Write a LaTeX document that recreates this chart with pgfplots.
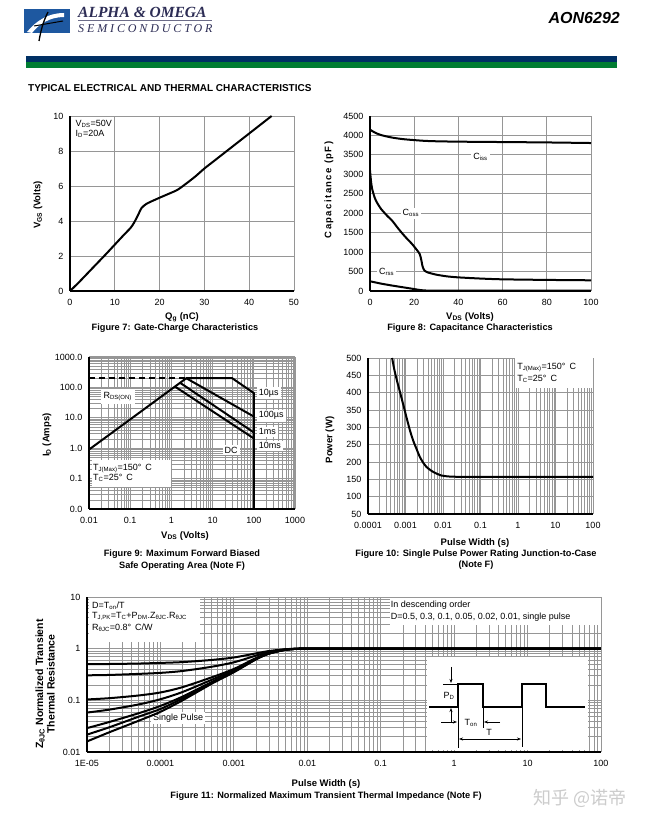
\documentclass[border=0pt]{standalone}
\usepackage{fontspec}
\setmainfont{Liberation Sans}
\newfontfamily\lserif{Liberation Serif}
\newfontfamily\lserifsp[LetterSpace=24]{Liberation Serif}
\newfontfamily\cjk{Noto Sans CJK SC}
\usepackage{pgfplots}
\pgfplotsset{compat=1.18}
\usetikzlibrary{arrows.meta}

\definecolor{gridgray}{RGB}{150,150,150}
\definecolor{aoblue}{RGB}{0,48,100}
\definecolor{aogreen}{RGB}{0,125,50}
\definecolor{logoblue}{RGB}{30,88,160}
\definecolor{logotext}{RGB}{45,45,85}

\newcommand\tk{\fontsize{9}{10.5}\selectfont}
\newcommand\lbl{\fontsize{9.5}{11}\selectfont\bfseries}
\newcommand\capf{\fontsize{9.2}{11}\selectfont\bfseries}
\newcommand\sub[1]{\textsubscript{#1}}

\pgfplotsset{
 soaminor/.style={
  minor xtick={0.02,0.03,0.04,0.05,0.06,0.07,0.08,0.09,0.2,0.3,0.4,0.5,0.6,0.7,0.8,0.9,2,3,4,5,6,7,8,9,20,30,40,50,60,70,80,90,200,300,400,500,600,700,800,900},
  minor ytick={0.02,0.03,0.04,0.05,0.06,0.07,0.08,0.09,0.2,0.3,0.4,0.5,0.6,0.7,0.8,0.9,2,3,4,5,6,7,8,9,20,30,40,50,60,70,80,90,200,300,400,500,600,700,800,900}},
 pminor/.style={
  minor xtick={0.0002,0.0003,0.0004,0.0005,0.0006,0.0007,0.0008,0.0009,0.002,0.003,0.004,0.005,0.006,0.007,0.008,0.009,0.02,0.03,0.04,0.05,0.06,0.07,0.08,0.09,0.2,0.3,0.4,0.5,0.6,0.7,0.8,0.9,2,3,4,5,6,7,8,9,20,30,40,50,60,70,80,90}},
 zminor/.style={
  minor xtick={0.00002,0.00003,0.00004,0.00005,0.00006,0.00007,0.00008,0.00009,0.0002,0.0003,0.0004,0.0005,0.0006,0.0007,0.0008,0.0009,0.002,0.003,0.004,0.005,0.006,0.007,0.008,0.009,0.02,0.03,0.04,0.05,0.06,0.07,0.08,0.09,0.2,0.3,0.4,0.5,0.6,0.7,0.8,0.9,2,3,4,5,6,7,8,9,20,30,40,50,60,70,80,90},
  minor ytick={0.02,0.03,0.04,0.05,0.06,0.07,0.08,0.09,0.2,0.3,0.4,0.5,0.6,0.7,0.8,0.9,2,3,4,5,6,7,8,9}},
 ds/.style={scale only axis, anchor=south west,
  axis x line*=bottom, axis y line*=left,
  axis line style={line width=1.8pt,-},
  major tick length=0pt, minor tick length=0pt,
  xmajorgrids, ymajorgrids,
  major grid style={gridgray,line width=0.8pt},
  minor grid style={gridgray,line width=0.5pt},
  tick label style={font=\tk},
  /pgf/number format/assume math mode=true,
  /pgf/number format/1000 sep={},
  xticklabel style={yshift=-5pt},
  yticklabel style={xshift=-3pt},
  every axis plot/.append style={black,line width=2pt,mark=none}}}

\begin{document}
\begin{tikzpicture}
\path[fill=white,use as bounding box] (0,0) rectangle (647pt,828pt);

% ---------- Figure 7 ----------
\begin{axis}[ds, at={(70pt,537pt)}, width=224pt, height=175pt,
  xmin=0,xmax=50,ymin=0,ymax=10, xtick={0,10,20,30,40,50}, ytick={0,2,4,6,8,10}]
\node[anchor=north west,align=left,font=\tk,inner sep=1pt] at (axis cs:1,9.85) {V\sub{DS}=50V\\I\sub{D}=20A};
\addplot[black,smooth,tension=0.4] coordinates {(0,0) (2,0.5) (5,1.3) (8,2.1) (10,2.65) (12,3.2) (13.5,3.6) (14.3,3.9) (15.2,4.35) (16,4.75) (17,4.97) (18,5.1) (20,5.33) (22,5.55) (24,5.78) (26,6.15) (28,6.55) (30,7.0) (32,7.4) (35,8.0) (38,8.6) (40,9.0) (42.5,9.5) (45,10)};
\end{axis}

% ---------- Figure 8 ----------
\begin{axis}[ds, at={(370pt,537pt)}, width=221pt, height=175pt,
  xmin=0,xmax=100,ymin=0,ymax=4500, xtick={0,20,40,60,80,100}, ytick={0,500,...,4500}]
\node[fill=white,font=\tk,inner sep=2pt] at (axis cs:50,3450) {C\sub{iss}};
\node[fill=white,font=\tk,inner sep=2pt] at (axis cs:18.5,2000) {C\sub{oss}};
\node[fill=white,font=\tk,inner sep=2pt] at (axis cs:7.5,480) {C\sub{rss}};
\addplot[black,smooth] coordinates {(0,4150) (2,4080) (5,4010) (10,3945) (15,3905) (20,3880) (25,3860) (30,3850) (40,3840) (60,3830) (80,3820) (100,3805)};
\addplot[black,smooth,tension=0.4] coordinates {(0,3100) (0.5,2800) (1,2620) (2,2420) (3,2290) (5,2110) (8,1920) (10,1810) (13,1590) (16,1390) (19,1210) (21,1070) (22.5,950) (23.2,800) (23.8,630) (24.6,530) (26,480) (30,420) (35,375) (40,350) (50,320) (60,300) (80,285) (100,275)};
\addplot[black,smooth,tension=0.4] coordinates {(0,250) (5,190) (10,140) (15,95) (20,50) (23,22) (25,14) (30,12) (100,10)};
\end{axis}

% ---------- Figure 9 ----------
\begin{axis}[ds, soaminor, at={(89pt,319pt)}, width=206pt, height=152pt,
  xmode=log, ymode=log, xmin=0.01,xmax=1000,ymin=0.01,ymax=1000,
  xtick={0.01,0.1,1,10,100,1000}, xticklabels={0.01,0.1,1,10,100,1000},
  ytick={0.01,0.1,1,10,100,1000}, yticklabels={0.0,0.1,1.0,10.0,100.0,1000.0},
  xminorgrids, yminorgrids,
  major grid style={gridgray,line width=1.1pt},
  minor grid style={gridgray,line width=0.6pt}]
\node[fill=white,font=\tk,inner sep=3pt] at (axis cs:0.05,50) {R\sub{DS(ON)}};
\fill[white] (axis cs:0.0118,0.053) rectangle (axis cs:1.0,0.41);
\node[anchor=west,font=\tk,inner sep=0pt] at (axis cs:0.0125,0.21) {T\sub{J(Max)}=150°\, C};
\node[anchor=west,font=\tk,inner sep=0pt] at (axis cs:0.0125,0.105) {T\sub{C}=25°\, C};
\node[anchor=west,fill=white,font=\tk,inner sep=2pt] at (axis cs:118,66) {10µs};
\node[anchor=west,fill=white,font=\tk,inner sep=2pt] at (axis cs:118,11.7) {100µs};
\node[anchor=west,fill=white,font=\tk,inner sep=2pt] at (axis cs:118,3.5) {1ms};
\node[anchor=west,fill=white,font=\tk,inner sep=2pt] at (axis cs:118,1.2) {10ms};
\node[fill=white,font=\tk,inner sep=2pt] at (axis cs:28,0.87) {DC};
\addplot[black,line width=1.5pt,dash pattern=on 6pt off 4pt] coordinates {(0.01,200) (2.3,200)};
\addplot[black] coordinates {(0.01,0.9) (2.3,200) (30,200) (100,65) (100,0.01)};
\addplot[black] coordinates {(2.3,200) (100,11)};
\addplot[black] coordinates {(1.6,144) (100,3.3)};
\addplot[black] coordinates {(1.2,108) (100,2.1)};
\end{axis}

% ---------- Figure 10 ----------
\begin{axis}[ds, pminor, at={(368pt,314pt)}, width=225pt, height=156pt,
  xmode=log, xmin=0.0001,xmax=100,ymin=50,ymax=500,
  xtick={0.0001,0.001,0.01,0.1,1,10,100}, xticklabels={0.0001,0.001,0.01,0.1,1,10,100},
  ytick={50,100,...,500}, xminorgrids]
\fill[white] (axis cs:0.85,413) rectangle (axis cs:100,500);
\node[anchor=west,font=\tk,inner sep=0pt] at (axis cs:0.95,472) {T\sub{J(Max)}=150°\, C};
\node[anchor=west,font=\tk,inner sep=0pt] at (axis cs:0.95,439) {T\sub{C}=25°\, C};
\addplot[black,smooth,tension=0.5] coordinates {(0.00044,500) (0.0005,468) (0.0006,432) (0.0007,405) (0.00085,370) (0.00105,331) (0.0013,293) (0.0016,262) (0.002,236) (0.0024,215) (0.003,197) (0.0036,186) (0.005,174) (0.0066,167) (0.009,161) (0.012,159) (0.02,157.5) (0.1,157) (100,157)};
\end{axis}

% ---------- Figure 11 ----------
\begin{axis}[ds, zminor, at={(87pt,76pt)}, width=514pt, height=155pt,
  xmode=log, ymode=log, xmin=0.00001,xmax=100,ymin=0.01,ymax=10,
  xtick={0.00001,0.0001,0.001,0.01,0.1,1,10,100}, xticklabels={1E-05,0.0001,0.001,0.01,0.1,1,10,100},
  ytick={0.01,0.1,1,10}, yticklabels={0.01,0.1,1,10},
  xminorgrids, yminorgrids]
\fill[white] (axis cs:0.0000106,1.35) rectangle (axis cs:0.00035,9.6);
\node[anchor=west,font=\tk,inner sep=0pt] at (axis cs:0.0000117,6.7) {D=T\sub{on}/T};
\node[anchor=west,font=\tk,inner sep=0pt] at (axis cs:0.0000117,4.27) {T\sub{J,PK}=T\sub{C}+P\sub{DM}.Z\sub{θJC}.R\sub{θJC}};
\node[anchor=west,font=\tk,inner sep=0pt] at (axis cs:0.0000117,2.51) {R\sub{θJC}=0.8°\, C/W};
\fill[white] (axis cs:0.134,2.88) rectangle (axis cs:99,9.6);
\node[anchor=west,font=\tk,inner sep=0pt] at (axis cs:0.137,7.0) {In descending order};
\node[anchor=west,font=\tk,inner sep=0pt] at (axis cs:0.137,4.1) {D=0.5, 0.3, 0.1, 0.05, 0.02, 0.01, single pulse};
\node[fill=white,font=\tk,inner sep=2pt] at (axis cs:0.000174,0.0455) {Single Pulse};
\fill[white] (axis cs:0.43,0.0108) rectangle (axis cs:66,0.69);
\addplot[black,smooth] coordinates {(0.00001,0.50) (0.00002,0.505) (0.00005,0.515) (0.0001,0.53) (0.0002,0.55) (0.0005,0.605) (0.001,0.675) (0.002,0.81) (0.003,0.90) (0.005,0.975) (0.007,0.995) (0.01,1) (0.05,1) (100,1)};
\addplot[black,smooth] coordinates {(0.00001,0.305) (0.00002,0.31) (0.00005,0.325) (0.0001,0.34) (0.0002,0.37) (0.0005,0.447) (0.001,0.545) (0.002,0.734) (0.003,0.86) (0.005,0.965) (0.007,0.993) (0.01,1) (0.05,1) (100,1)};
\addplot[black,smooth] coordinates {(0.00001,0.104) (0.00002,0.11) (0.00005,0.124) (0.0001,0.142) (0.0002,0.18) (0.0005,0.279) (0.001,0.405) (0.002,0.658) (0.003,0.82) (0.005,0.955) (0.007,0.991) (0.01,1) (0.05,1) (100,1)};
\addplot[black,smooth] coordinates {(0.00001,0.058) (0.00002,0.066) (0.00005,0.083) (0.0001,0.105) (0.0002,0.145) (0.0005,0.25) (0.001,0.383) (0.002,0.639) (0.003,0.81) (0.005,0.953) (0.007,0.99) (0.01,1) (0.05,1) (100,1)};
\addplot[black,smooth] coordinates {(0.00001,0.029) (0.00002,0.038) (0.00005,0.056) (0.0001,0.078) (0.0002,0.118) (0.0005,0.226) (0.001,0.363) (0.002,0.628) (0.003,0.804) (0.005,0.951) (0.007,0.99) (0.01,1) (0.05,1) (100,1)};
\addplot[black,smooth] coordinates {(0.00001,0.0217) (0.00002,0.030) (0.00005,0.048) (0.0001,0.068) (0.0002,0.109) (0.0005,0.218) (0.001,0.357) (0.002,0.624) (0.003,0.802) (0.005,0.95) (0.007,0.99) (0.01,1) (0.05,1) (100,1)};
\addplot[black,smooth] coordinates {(0.00001,0.016) (0.00002,0.024) (0.00005,0.040) (0.0001,0.060) (0.0002,0.100) (0.0005,0.21) (0.001,0.35) (0.002,0.62) (0.003,0.80) (0.005,0.95) (0.007,0.99) (0.01,1) (0.05,1) (100,1)};
\end{axis}

% ---------- page furniture (y measured from top) ----------
\begin{scope}[x=1pt,y=-1pt,yshift=828pt]
% logo
\fill[logoblue] (24,9) rectangle (70,33);
\fill[white] (27,32) .. controls (36,21) and (48,13) .. (64,13) -- (64,17) .. controls (50,17) and (39,24) .. (32,33) -- cycle;
\draw[line width=1.3pt] (48,12) .. controls (43,22) and (41,30) .. (39,41);
\draw[line width=1pt] (34,26) -- (63,21);
\node[anchor=base west,inner sep=0pt,text=logotext,font=\fontsize{15.5}{15.5}\lserif\bfseries\itshape] at (78,18) {ALPHA \& OMEGA};
\draw[logotext!70,line width=0.8pt] (78,20.5) -- (212,20.5);
\node[anchor=base west,inner sep=0pt,text=logotext,font=\fontsize{12}{12}\lserifsp\itshape] at (78,32.5) {SEMICONDUCTOR};
\node[anchor=east,inner sep=0pt,font=\fontsize{16}{16}\selectfont\bfseries\itshape] at (620,18) {AON6292};
% bars
\fill[aoblue] (26,56) rectangle (617,62.5);
\fill[aogreen] (26,62.5) rectangle (617,68);
\node[anchor=west,inner sep=0pt,font=\fontsize{10}{12}\selectfont\bfseries] at (28,88) {TYPICAL ELECTRICAL AND THERMAL CHARACTERISTICS};
% fig 7
\node[font=\lbl] at (182,317) {Q\sub{g} (nC)};
\node[font=\lbl,rotate=90] at (38,205) {V\sub{GS} (Volts)};
\node[font=\capf] at (175,328) {Figure 7: Gate-Charge Characteristics};
% fig 8
\node[font=\lbl] at (470,317) {V\sub{DS} (Volts)};
\node[font={\lbl\addfontfeature{LetterSpace=15}},rotate=90] at (329,190) {Capacitance (pF)};
\node[font=\capf] at (470,328) {Figure 8: Capacitance Characteristics};
% fig 9
\node[font=\lbl] at (185,536) {V\sub{DS} (Volts)};
\node[font=\lbl,rotate=90] at (47,435) {I\sub{D} (Amps)};
\node[font=\capf] at (182,554) {Figure 9: Maximum Forward Biased};
\node[font=\capf] at (182,566) {Safe Operating Area (Note F)};
% fig 10
\node[font=\lbl] at (475,543) {Pulse Width (s)};
\node[font=\lbl,rotate=90] at (330,440) {Power (W)};
\node[font=\capf] at (476,554) {Figure 10: Single Pulse Power Rating Junction-to-Case};
\node[font=\capf] at (476,565) {(Note F)};
% fig 11
\node[font=\lbl] at (326,784) {Pulse Width (s)};
\node[font=\fontsize{10.5}{11.5}\selectfont\bfseries,rotate=90,align=center] at (45,684) {Z\sub{θJC} Normalized Transient\\Thermal Resistance};
\node[font=\capf] at (326,796) {Figure 11: Normalized Maximum Transient Thermal Impedance (Note F)};
% inset pulse diagram
\draw[line width=1.6pt] (429,707) -- (458,707) -- (458,684) -- (483,684) -- (483,707) -- (522,707) -- (522,684) -- (546,684) -- (546,707) -- (585,707);
\draw[line width=0.7pt] (458,707) -- (458,748);
\draw[line width=0.7pt] (483,707) -- (483,728);
\draw[line width=0.7pt] (522,707) -- (522,747);
\draw[line width=0.7pt] (443,684) -- (458,684);
\draw[-{Stealth[length=4pt,width=3pt]},line width=0.6pt] (451,667) -- (451,683);
\draw[-{Stealth[length=4pt,width=3pt]},line width=0.6pt] (451,723) -- (451,708);
\node[font=\tk] at (449,696) {P\sub{D}};
\draw[-{Stealth[length=4pt,width=3pt]},line width=0.6pt] (441,722) -- (457,722);
\draw[-{Stealth[length=4pt,width=3pt]},line width=0.6pt] (500,722) -- (484,722);
\node[font=\tk] at (471,723) {T\sub{on}};
\draw[{Stealth[length=4pt,width=3pt]}-{Stealth[length=4pt,width=3pt]},line width=0.6pt] (459,739) -- (521,739);
\node[font=\tk] at (489,732) {T};
% watermark
\node[text=black!20,font=\fontsize{18}{18}\cjk] at (580,798) {知乎 @诺帝};
\end{scope}
\end{tikzpicture}
\end{document}
